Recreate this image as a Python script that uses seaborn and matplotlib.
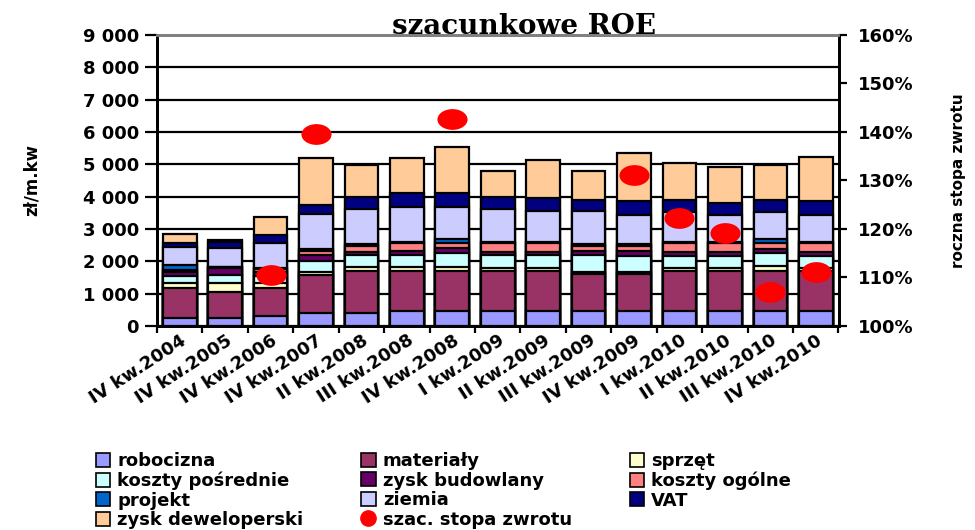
import matplotlib

matplotlib.use("Agg")
import matplotlib.pyplot as plt
import numpy as np
import seaborn as sns
from matplotlib.lines import Line2D
from matplotlib.markers import MarkerStyle
from matplotlib.patches import Patch
from matplotlib.path import Path
from matplotlib.ticker import FixedLocator, FuncFormatter
from matplotlib.transforms import Affine2D

sns.set_theme(style="white")
plt.rcParams["font.family"] = ["DejaVu Sans"]
plt.rcParams["font.weight"] = "bold"
for key in ("text.color", "axes.labelcolor", "xtick.color", "ytick.color"):
    plt.rcParams[key] = "black"

QUARTERS = [
    "IV kw.2004", "IV kw.2005", "IV kw.2006", "IV kw.2007", "II kw.2008",
    "III kw.2008", "IV kw.2008", "I kw.2009", "II kw.2009", "III kw.2009",
    "IV kw.2009", "I kw.2010", "II kw.2010", "III kw.2010", "IV kw.2010",
]

ROBOCIZNA = [250, 250, 310, 390, 390, 460, 460, 460, 460, 460, 460, 460, 460, 460, 460]
MATERIALY = [920, 810, 855, 1190, 1320, 1250, 1250, 1250, 1250, 1150, 1150, 1250, 1250, 1250, 1250]
SPRZET = [150, 260, 155, 100, 120, 120, 120, 70, 70, 70, 70, 70, 70, 140, 70]
KOSZTY_POSREDNIE = [220, 260, 230, 340, 360, 360, 440, 410, 410, 510, 490, 390, 390, 400, 390]
ZYSK_BUDOWLANY = [140, 200, 130, 160, 110, 130, 130, 110, 110, 140, 160, 130, 130, 140, 130]
KOSZTY_OGOLNE = [60, 30, 80, 150, 170, 240, 160, 260, 260, 140, 140, 260, 260, 170, 260]
PROJEKT = [150, 0, 30, 50, 50, 50, 140, 50, 50, 60, 60, 50, 50, 140, 50]
ZIEMIA = [560, 590, 790, 1070, 1090, 1080, 990, 1000, 960, 1040, 900, 930, 820, 840, 820]
VAT = [130, 200, 230, 290, 390, 410, 410, 390, 380, 330, 420, 360, 360, 360, 420]
ZYSK_DEWELOPERSKI = [270, 50, 570, 1450, 980, 1090, 1450, 780, 1180, 880, 1490, 1130, 1140, 1080, 1390]

# szacunkowa roczna stopa zwrotu, %
STOPA_ZWROTU = [np.nan, np.nan, 110.5, 139.5, np.nan, np.nan, 142.6, np.nan, np.nan,
                np.nan, 131.1, 122.2, 119.1, 106.9, 111.2]

SERIES = [
    ("robocizna", ROBOCIZNA, "#9999FF"),
    ("materiały", MATERIALY, "#993366"),
    ("sprzęt", SPRZET, "#FFFFCC"),
    ("koszty pośrednie", KOSZTY_POSREDNIE, "#CCFFFF"),
    ("zysk budowlany", ZYSK_BUDOWLANY, "#660066"),
    ("koszty ogólne", KOSZTY_OGOLNE, "#FF8080"),
    ("projekt", PROJEKT, "#0066CC"),
    ("ziemia", ZIEMIA, "#CCCCFF"),
    ("VAT", VAT, "#000080"),
    ("zysk deweloperski", ZYSK_DEWELOPERSKI, "#FFCC99"),
]

# wide oval blob used for the return-rate points
OVAL = MarkerStyle(Path.unit_circle().transformed(Affine2D().scale(1.45, 1.0)))


def plot(path="out.png"):
    fig = plt.figure(figsize=(9.75, 5.3), dpi=100)
    ax = fig.add_axes([0.161, 0.385, 0.699, 0.549])

    # stacked bars: draw cumulative totals from the top layer down
    tops = np.cumsum([vals for _, vals, _ in SERIES], axis=0)
    for (name, _, color), top in reversed(list(zip(SERIES, tops))):
        sns.barplot(x=QUARTERS, y=top, order=QUARTERS, color=color, saturation=1,
                    edgecolor="black", linewidth=1.6, width=0.74, errorbar=None, ax=ax)

    ax.set_ylim(0, 9000)
    ax.set_yticks(np.arange(0, 9001, 1000))
    ax.yaxis.set_major_formatter(FuncFormatter(lambda v, _: f"{v:,.0f}".replace(",", " ")))
    ax.set_axisbelow(True)
    ax.grid(axis="y", color="black", linewidth=1.6)
    ax.grid(axis="x", visible=False)
    ax.tick_params(axis="y", direction="out", length=9, width=1.6, labelsize=13, pad=4, left=True)
    ax.tick_params(axis="x", which="major", length=0, labelsize=13, pad=4)
    ax.xaxis.set_minor_locator(FixedLocator(np.arange(-0.5, len(QUARTERS), 1)))
    ax.tick_params(axis="x", which="minor", direction="out", length=5, width=1.6, bottom=True)
    plt.setp(ax.get_xticklabels(), rotation=33, ha="right", rotation_mode="anchor")
    ax.set_xlabel("")
    ax.set_ylabel("zł/m.kw", fontsize=12, fontweight="bold", labelpad=30)

    ax2 = ax.twinx()
    sns.scatterplot(x=np.arange(len(QUARTERS)), y=STOPA_ZWROTU, color="red", marker=OVAL,
                    s=470, edgecolor="red", linewidth=0, legend=False, ax=ax2, zorder=5)
    ax2.set_ylim(100, 160)
    ax2.set_yticks(np.arange(100, 161, 10))
    ax2.yaxis.set_major_formatter(FuncFormatter(lambda v, _: f"{v:.0f}%"))
    ax2.tick_params(axis="y", direction="out", length=6, width=1.6, labelsize=13, pad=8, right=True)
    ax2.set_ylabel("roczna stopa zwrotu", fontsize=11, fontweight="bold", labelpad=27)
    ax2.grid(False)
    ax.set_xlim(-0.5, len(QUARTERS) - 0.5)

    for a in (ax, ax2):
        for side in ("left", "right", "bottom"):
            a.spines[side].set_color("black")
            a.spines[side].set_linewidth(2)
        a.spines["top"].set_color("#808080")
        a.spines["top"].set_linewidth(2)

    fig.text(0.537, 0.95, "szacunkowe ROE", ha="center", va="center",
             fontsize=20, fontweight="bold", family=["DejaVu Serif"])

    patches = {name: Patch(facecolor=color, edgecolor="black", linewidth=1.2)
               for name, _, color in SERIES}
    dot = Line2D([], [], marker="o", color="red", linestyle="none", markersize=11)
    order = ["robocizna", "koszty pośrednie", "projekt", "zysk deweloperski",
             "materiały", "zysk budowlany", "ziemia", "szac. stopa zwrotu",
             "sprzęt", "koszty ogólne", "VAT"]
    handles = [dot if name == "szac. stopa zwrotu" else patches[name] for name in order]
    fig.legend(handles, order, loc="lower left", bbox_to_anchor=(0.085, -0.022), ncol=3,
               frameon=False, fontsize=13, handlelength=0.8, handleheight=0.8,
               handletextpad=0.4, labelspacing=0.08, columnspacing=3.2, borderpad=0.2)

    fig.savefig(path, dpi=100)
    plt.close(fig)


if __name__ == "__main__":
    plot()
